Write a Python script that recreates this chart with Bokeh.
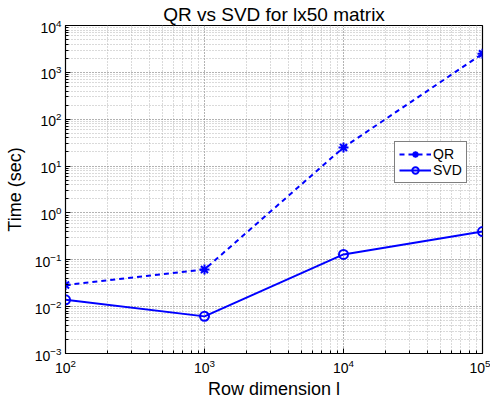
from bokeh.plotting import figure
from bokeh.models import Legend, LegendItem, FixedTicker, Range1d
from bokeh.embed import file_html
from bokeh.resources import INLINE

rows = [1e2, 1e3, 1e4, 1e5]
qr_time = [0.029, 0.062, 25.0, 2500.0]
svd_time = [0.014, 0.0062, 0.13, 0.40]
xticks = [1e2, 1e3, 1e4, 1e5]
yticks = [1e-3, 1e-2, 1e-1, 1e0, 1e1, 1e2, 1e3, 1e4]

FONT = "Liberation Sans"
BLUE = "#0000ff"

def minors(t):
    return [v * k for v in t[:-1] for k in range(2, 10)]

p = figure(frame_width=417, frame_height=328, x_axis_type="log", y_axis_type="log",
           x_range=Range1d(1e2, 1e5), y_range=Range1d(1e-3, 1e4),
           output_backend="svg", toolbar_location=None,
           min_border_left=65, min_border_right=8, min_border_top=25, min_border_bottom=30)
p.title.text = "QR vs SVD for lx50 matrix"
p.title.align = "center"
p.title.text_font = FONT
p.title.text_font_size = "19px"
p.title.text_font_style = "normal"
p.title.text_color = "black"
p.title.standoff = 2
p.outline_line_color = "black"
p.outline_line_width = 1.2

p.xaxis.axis_label = "Row dimension l"
p.yaxis.axis_label = "Time (sec)"

for ax in list(p.xaxis) + list(p.yaxis):
    ax.major_tick_in = 5
    ax.major_tick_out = 0
    ax.minor_tick_in = 3
    ax.minor_tick_out = 0
    ax.axis_line_color = "black"
    ax.major_label_text_font = FONT
    ax.major_label_text_font_size = "14px"
    ax.major_label_text_color = "black"
    ax.axis_label_text_font = FONT
    ax.axis_label_text_font_size = "18px"
    ax.axis_label_text_font_style = "normal"
    ax.axis_label_text_color = "black"
p.xaxis.axis_label_standoff = 3
p.xaxis.major_label_standoff = 5
p.yaxis.axis_label_standoff = 7
p.yaxis.major_label_standoff = 4
p.xaxis.ticker = FixedTicker(ticks=xticks, minor_ticks=minors(xticks))
p.yaxis.ticker = FixedTicker(ticks=yticks, minor_ticks=minors(yticks))

p.xgrid.ticker = FixedTicker(ticks=xticks, minor_ticks=minors(xticks))
p.ygrid.ticker = FixedTicker(ticks=yticks, minor_ticks=minors(yticks))
for g in (p.xgrid, p.ygrid):
    g.grid_line_color = "#666666"
    g.grid_line_dash = "1 2"
    g.grid_line_width = 1
    g.minor_grid_line_color = "#b4b4b4"
    g.minor_grid_line_dash = "1 2"

qr_line = p.line(rows, qr_time, line_color=BLUE, line_width=2, line_dash="5 4")
qr_pts = p.scatter(rows, qr_time, marker="asterisk", size=10, line_color=BLUE, line_width=2)
svd_line = p.line(rows, svd_time, line_color=BLUE, line_width=2)
svd_pts = p.scatter(rows, svd_time, marker="circle", size=9, line_color=BLUE, line_width=2, fill_color=None)

legend = Legend(items=[LegendItem(label="QR", renderers=[qr_line, qr_pts]),
                       LegendItem(label="SVD", renderers=[svd_line, svd_pts])],
                location=(329, 170))
legend.border_line_color = "black"
legend.border_line_width = 1.2
legend.label_text_font = FONT
legend.label_text_font_size = "14px"
legend.label_text_color = "black"
legend.glyph_width = 32
legend.spacing = 0
legend.padding = 4
legend.margin = 0
legend.label_standoff = 2
legend.label_height = 16
legend.glyph_height = 16
p.add_layout(legend, "center")

open("out.html", "w").write(file_html(p, INLINE))
